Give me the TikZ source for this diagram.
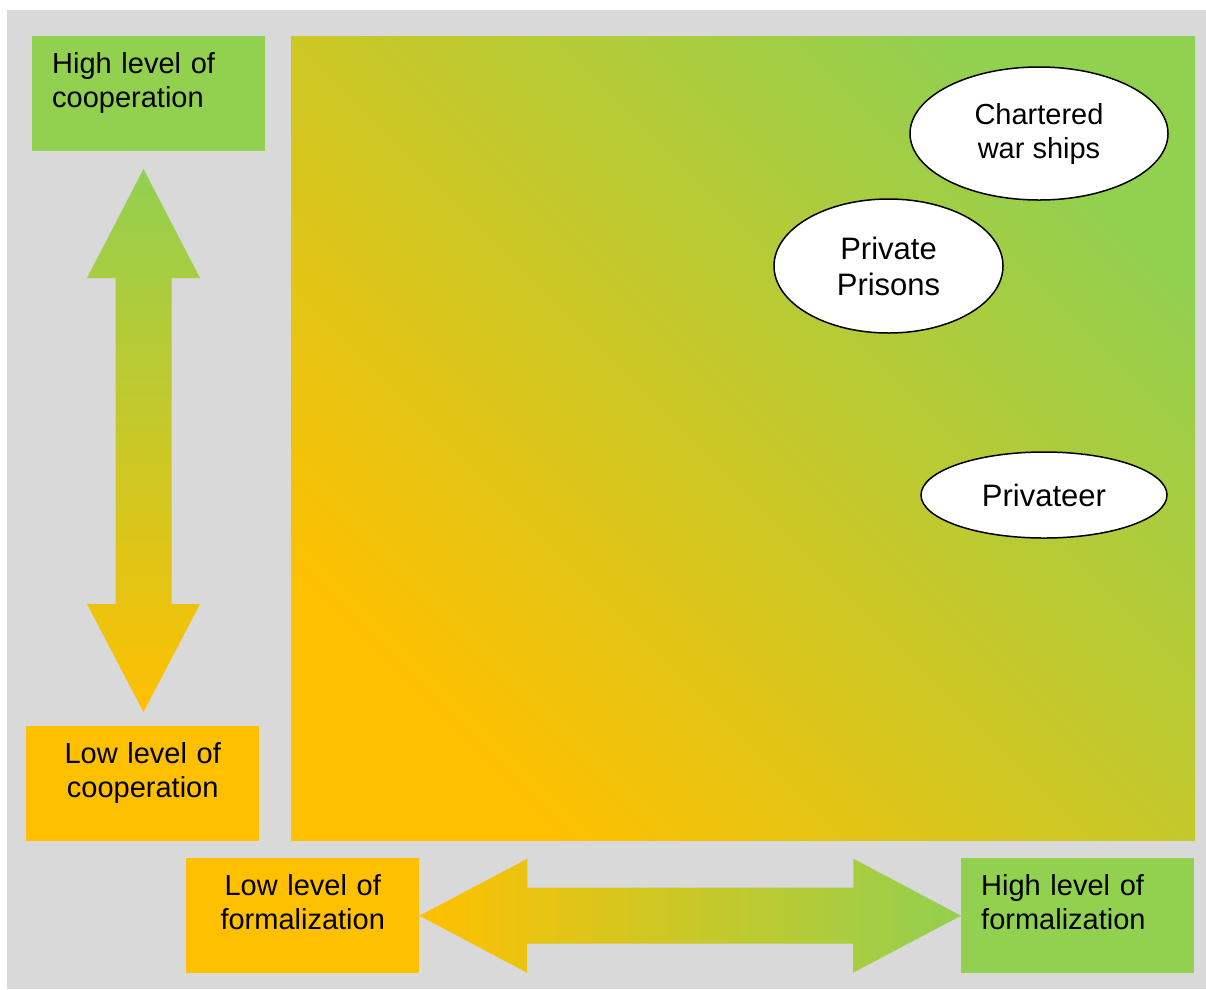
\documentclass[tikz,border=0pt]{standalone}
\usepackage{fontspec}
\setmainfont{Liberation Sans}
\usepackage{tikz}
\usetikzlibrary{shapes.geometric, shadings, positioning, calc}
\definecolor{cgreen}{HTML}{92D050}
\definecolor{corange}{HTML}{FFC000}
\definecolor{cgray}{HTML}{D9D9D9}
\tikzset{
  levelbox/.style={rectangle,anchor=north west,text width=193pt,inner xsep=20pt,inner ysep=16pt,text height=21pt,text depth=62pt,font=\fontsize{29}{34}\selectfont},
  gbox/.style={levelbox,fill=cgreen,align=left},
  obox/.style={levelbox,fill=corange,align=center},
  case/.style={ellipse,draw=black,line width=1.5pt,fill=white,inner sep=0pt,align=center,font=\fontsize{29}{34}\selectfont},
  bigcase/.style={case,font=\fontsize{31}{36}\selectfont}
}

\begin{document}
\begin{tikzpicture}[x=1pt,y=-1pt]
  \useasboundingbox[fill=white] (0,0) rectangle (1206,989);
  \fill[cgray] (7,10) rectangle (1206,989);

  % main field
  \shade[left color=corange,right color=cgreen,shading angle=135]
    (291,36) rectangle (1195,840);

  % axis labels
  \node[gbox] (highcoop) at (32,36) {High level of\\cooperation};
  \node[obox] (lowcoop) at (26,726) {Low level of\\cooperation};
  \node[obox] (lowform) at (186,858) {Low level of\\formalization};
  \node[gbox] (highform) at (961,858) {High level of\\formalization};

  % cooperation axis
  \coordinate (vtip) at (143.5,169);
  \shade[top color=cgreen,bottom color=corange]
    (vtip) -- ++(56.5,109) -- ++(-28.5,0) -- ++(0,326) -- ++(28.5,0)
    -- ++(-56.5,108) -- ++(-56.5,-108) -- ++(28.5,0) -- ++(0,-326) -- ++(-28.5,0) -- cycle;

  % formalization axis
  \shade[left color=corange,right color=cgreen]
    (lowform.east) -- ++(108,-57) -- ++(0,29) -- ++(326,0) -- ++(0,-29)
    -- (highform.west) -- ++(-108,57) -- ++(0,-29) -- ++(-326,0) -- ++(0,29) -- cycle;

  % cases
  \node[case,minimum width=258pt,minimum height=133pt] (ships) at (1039,133.5) {Chartered\\war ships};
  \node[bigcase,minimum width=229pt,minimum height=134pt] (prisons) at (888.5,266) {Private\\Prisons};
  \node[bigcase,minimum width=246pt,minimum height=86pt] (privateer) at (1044,495) {Privateer};
\end{tikzpicture}
\end{document}
